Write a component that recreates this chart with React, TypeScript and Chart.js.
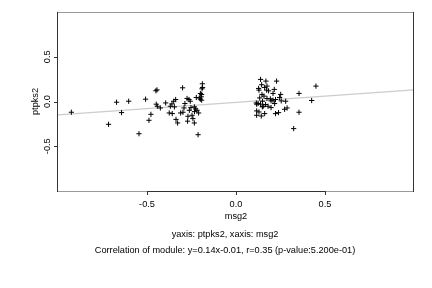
import React, { useEffect, useRef } from "react";
import { Chart, registerables } from "chart.js";

Chart.register(...registerables);

const msg2Values: number[] = [
  -0.925, -0.716, -0.671, -0.643, -0.603, -0.545, -0.508, -0.489, -0.478, -0.448,
  -0.442, -0.425, -0.45, -0.444, -0.395, -0.369, -0.36, -0.375, -0.358, -0.35,
  -0.339, -0.346, -0.337, -0.328, -0.3, -0.311, -0.298, -0.292, -0.287, -0.275,
  -0.27, -0.272, -0.264, -0.257, -0.262, -0.253, -0.247, -0.242, -0.234, -0.233,
  -0.234, -0.227, -0.223, -0.219, -0.213, -0.21, -0.206, -0.2, -0.195, -0.191,
  -0.189, -0.188, -0.2, -0.193, -0.193,
  0.138, 0.168, 0.144, 0.228, 0.161, 0.127, 0.129, 0.172, 0.183, 0.215,
  0.251, 0.245, 0.208, 0.146, 0.157, 0.133, 0.174, 0.193, 0.222, 0.197,
  0.149, 0.124, 0.116, 0.138, 0.166, 0.153, 0.18, 0.197, 0.217, 0.254,
  0.208, 0.279, 0.273, 0.287, 0.116, 0.129, 0.116, 0.142, 0.161, 0.222,
  0.239, 0.324, 0.354, 0.354, 0.425, 0.449, 0.114, 0.148, 0.174,
];

const ptpks2Values: number[] = [
  -0.12, -0.255, -0.008, -0.124, 0.003, -0.36, 0.026, -0.21, -0.143, -0.03,
  -0.053, -0.072, 0.12, 0.13, -0.016, -0.053, -0.027, -0.128, -0.135, 0.003,
  0.022, -0.06, -0.2, -0.24, 0.153, -0.128, -0.12, -0.072, -0.023, 0.034,
  -0.165, -0.22, 0.022, 0.003, -0.098, -0.068, -0.154, -0.191, -0.06, -0.113,
  -0.24, -0.083, 0.045, -0.098, -0.371, -0.128, 0.04, 0.026, 0.052, 0.142,
  0.198, 0.157, 0.09, 0.015, 0.079,
  0.247, 0.228, 0.187, 0.228, 0.157, 0.146, 0.127, 0.127, 0.119, 0.135,
  0.079, 0.045, 0.09, 0.079, 0.06, 0.04, 0.034, 0.029, 0.022, 0.007,
  0.003, -0.022, -0.03, -0.03, -0.034, -0.053, -0.053, -0.068, -0.023, 0.007,
  0.015, 0.003, -0.087, -0.072, -0.105, -0.117, -0.154, -0.162, -0.135, -0.135,
  -0.124, -0.303, -0.12, 0.09, 0.011, 0.172, -0.016, -0.06, 0.172,
];

const fitSlope = 0.14;
const fitIntercept = -0.01;
const xRange = [-1, 1];
const yRange = [-1, 1];
const xTicks = [-0.5, 0, 0.5];
const yTicks = [-0.5, 0, 0.5];
const xTickLabels = ["-0.5", "0.0", "0.5"];
const yTickLabels = ["-0.5", "0.0", "0.5"];
const xTitle = "msg2";
const yTitle = "ptpks2";
const subtitleLines = [
  "yaxis: ptpks2, xaxis: msg2",
  "Correlation of module: y=0.14x-0.01, r=0.35 (p-value:5.200e-01)",
];

const FONT = "9.2px 'Liberation Sans', Arial, sans-serif";

const axesPlugin = {
  id: "rAxes",
  afterDraw(chart: any) {
    const ctx = chart.ctx as CanvasRenderingContext2D;
    const xs = chart.scales.x;
    const ys = chart.scales.y;
    const { left, right, top, bottom } = chart.chartArea;
    ctx.save();
    ctx.lineWidth = 1;
    // box
    ctx.strokeStyle = "#9a9a9a";
    ctx.beginPath();
    ctx.moveTo(left, top + 0.5);
    ctx.lineTo(right, top + 0.5);
    ctx.moveTo(left, bottom + 0.5);
    ctx.lineTo(right, bottom + 0.5);
    ctx.stroke();
    ctx.strokeStyle = "#333333";
    ctx.beginPath();
    ctx.moveTo(left - 0.5, top);
    ctx.lineTo(left - 0.5, bottom + 1);
    ctx.moveTo(right - 0.5, top);
    ctx.lineTo(right - 0.5, bottom + 1);
    ctx.stroke();
    // axes and tick marks
    ctx.strokeStyle = "#333333";
    ctx.beginPath();
    const x0 = xs.getPixelForValue(xTicks[0]);
    const x1 = xs.getPixelForValue(xTicks[xTicks.length - 1]);
    ctx.moveTo(x0, bottom + 0.5);
    ctx.lineTo(x1, bottom + 0.5);
    xTicks.forEach((v) => {
      const px = Math.round(xs.getPixelForValue(v)) + 0.5;
      ctx.moveTo(px, bottom);
      ctx.lineTo(px, bottom + 4);
    });
    yTicks.forEach((v) => {
      const py = Math.round(ys.getPixelForValue(v)) + 0.5;
      ctx.moveTo(left, py);
      ctx.lineTo(left - 4, py);
    });
    ctx.stroke();
    // labels
    ctx.fillStyle = "#000";
    ctx.font = FONT;
    ctx.textAlign = "center";
    ctx.textBaseline = "middle";
    xTicks.forEach((v, i) => {
      ctx.fillText(xTickLabels[i], xs.getPixelForValue(v), bottom + 13);
    });
    ctx.fillText(xTitle, (left + right) / 2, bottom + 25.5);
    yTicks.forEach((v, i) => {
      ctx.save();
      ctx.translate(left - 10.5, ys.getPixelForValue(v));
      ctx.rotate(-Math.PI / 2);
      ctx.fillText(yTickLabels[i], 0, 0);
      ctx.restore();
    });
    ctx.save();
    ctx.translate(left - 23, (top + bottom) / 2);
    ctx.rotate(-Math.PI / 2);
    ctx.fillText(yTitle, 0, 0);
    ctx.restore();
    subtitleLines.forEach((line, i) => {
      ctx.fillText(line, 225, bottom + 43.5 + i * 15.5);
    });
    ctx.restore();
  },
};

export default function App() {
  const canvasRef = useRef<HTMLCanvasElement | null>(null);

  useEffect(() => {
    const canvas = canvasRef.current;
    if (!canvas) return;
    const points = msg2Values.map((x, i) => ({ x, y: ptpks2Values[i] }));
    const fitLine = xRange.map((x) => ({ x, y: fitSlope * x + fitIntercept }));
    const chart = new Chart(canvas, {
      type: "scatter",
      data: {
        datasets: [
          {
            type: "line",
            data: fitLine,
            borderColor: "#cccccc",
            borderWidth: 1.2,
            pointRadius: 0,
            order: 2,
          } as any,
          {
            type: "scatter",
            data: points,
            pointStyle: "cross",
            pointRadius: 2.6,
            borderColor: "#000000",
            backgroundColor: "#000000",
            borderWidth: 1,
            order: 1,
          } as any,
        ],
      },
      options: {
        responsive: false,
        animation: false,
        devicePixelRatio: 1,
        layout: { padding: { left: 58, right: 18, top: 12, bottom: 97 } },
        plugins: {
          legend: { display: false },
          tooltip: { enabled: false },
        },
        scales: {
          x: { type: "linear", min: xRange[0], max: xRange[1], display: false },
          y: { type: "linear", min: yRange[0], max: yRange[1], display: false },
        },
      },
      plugins: [axesPlugin],
    });
    return () => chart.destroy();
  }, []);

  return (
    <div style={{ position: "absolute", left: 0, top: 0, width: 432, height: 288, background: "#fff" }}>
      <canvas ref={canvasRef} width={432} height={288} style={{ width: 432, height: 288 }} />
    </div>
  );
}
